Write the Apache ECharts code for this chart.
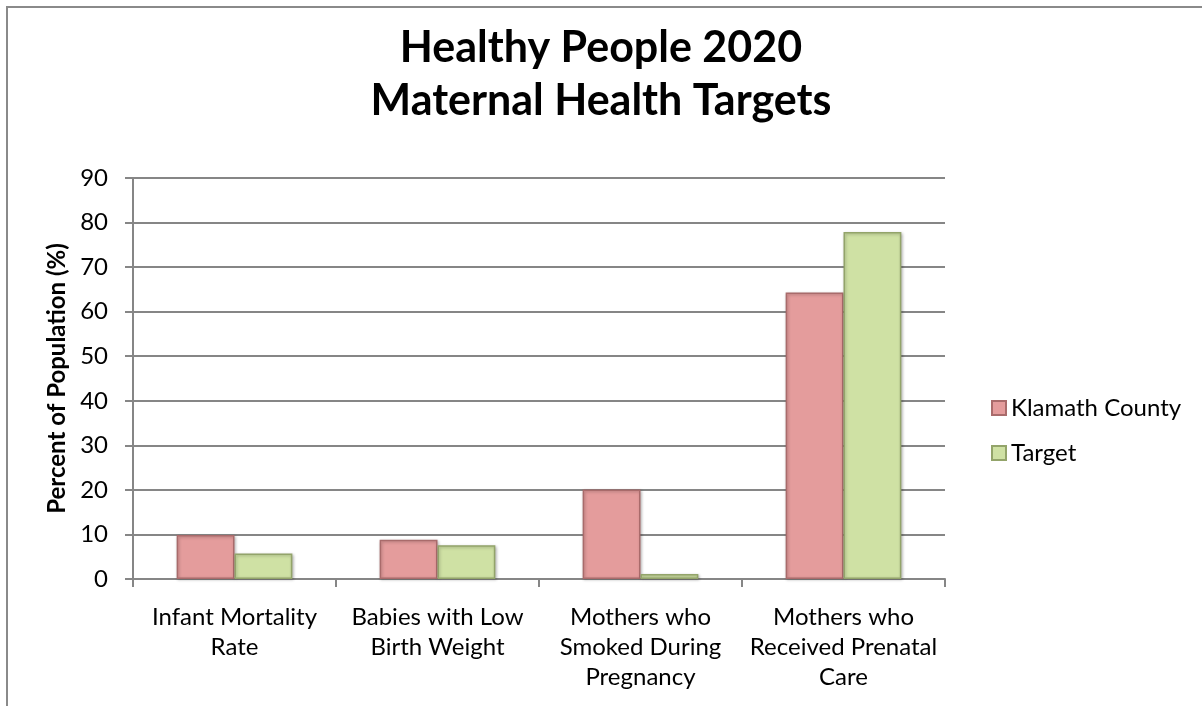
<!DOCTYPE html>
<html>
<head>
<meta charset="utf-8">
<script src="https://cdn.jsdelivr.net/npm/echarts@6/dist/echarts.min.js"></script>
<style>
html,body{margin:0;padding:0;background:#fff;}
#chart{width:1202px;height:706px;}
</style>
</head>
<body>
<div id="chart"></div>
<script>
const categories = [
  'Infant Mortality\nRate',
  'Babies with Low\nBirth Weight',
  'Mothers who\nSmoked During\nPregnancy',
  'Mothers who\nReceived Prenatal\nCare'
];
const klamathCounty = [9.9, 8.8, 20.1, 64.3];
const target = [5.7, 7.6, 1.1, 77.9];
const yTicks = { min: 0, max: 90, interval: 10 };

const FONT = 'Lato, "Open Sans", sans-serif';
const chart = echarts.init(document.getElementById('chart'), null, {renderer: 'canvas'});

function barStyle(face, dark) {
  return {
    color: face,
    borderColor: dark,
    borderWidth: 1.5,
    shadowColor: 'rgba(0,0,0,0.25)',
    shadowBlur: 3,
    shadowOffsetX: 1,
    shadowOffsetY: 1
  };
}

chart.setOption({
  backgroundColor: '#fff',
  animation: false,
  graphic: [{
    type: 'rect',
    shape: {x: 7, y: 7, width: 1300, height: 800},
    style: {fill: 'none', stroke: '#8a8a8a', lineWidth: 2},
    silent: true
  }],
  title: {
    text: 'Healthy People 2020\nMaternal Health Targets',
    left: 'center',
    top: 17,
    textStyle: {fontFamily: FONT, fontWeight: 'bold', fontSize: 43, lineHeight: 53, color: '#000'}
  },
  legend: {
    orient: 'vertical',
    left: 986,
    top: 391,
    itemWidth: 14,
    itemHeight: 14,
    itemGap: 21,
    icon: 'rect',
    textStyle: {fontFamily: FONT, fontSize: 24, color: '#000', lineHeight: 24},
    data: ['Klamath County', 'Target']
  },
  grid: {left: 133, right: 257, top: 178, bottom: 127, containLabel: false},
  xAxis: {
    type: 'category',
    data: categories,
    axisLine: {lineStyle: {color: '#868686', width: 2}},
    axisTick: {show: true, length: 8, lineStyle: {color: '#868686', width: 2}},
    axisLabel: {fontFamily: FONT, fontSize: 24, color: '#000', lineHeight: 30, margin: 23, interval: 0}
  },
  yAxis: {
    type: 'value',
    min: yTicks.min, max: yTicks.max, interval: yTicks.interval,
    name: 'Percent of Population (%)',
    nameLocation: 'middle',
    nameGap: 62,
    nameTextStyle: {fontFamily: FONT, fontWeight: 'bold', fontSize: 24, color: '#000'},
    axisLine: {show: true, lineStyle: {color: '#868686', width: 2}},
    axisTick: {show: true, length: 8, lineStyle: {color: '#868686', width: 2}},
    axisLabel: {fontFamily: FONT, fontSize: 24, color: '#000', margin: 25},
    splitLine: {lineStyle: {color: '#868686', width: 2}}
  },
  series: [
    {
      name: 'Klamath County', type: 'bar', data: klamathCounty,
      barGap: '0%', barCategoryGap: '43%',
      itemStyle: barStyle('#E49C9C', '#A96B6B')
    },
    {
      name: 'Target', type: 'bar', data: target,
      itemStyle: barStyle('#CFE1A4', '#93A46A')
    }
  ]
});
</script>
</body>
</html>
